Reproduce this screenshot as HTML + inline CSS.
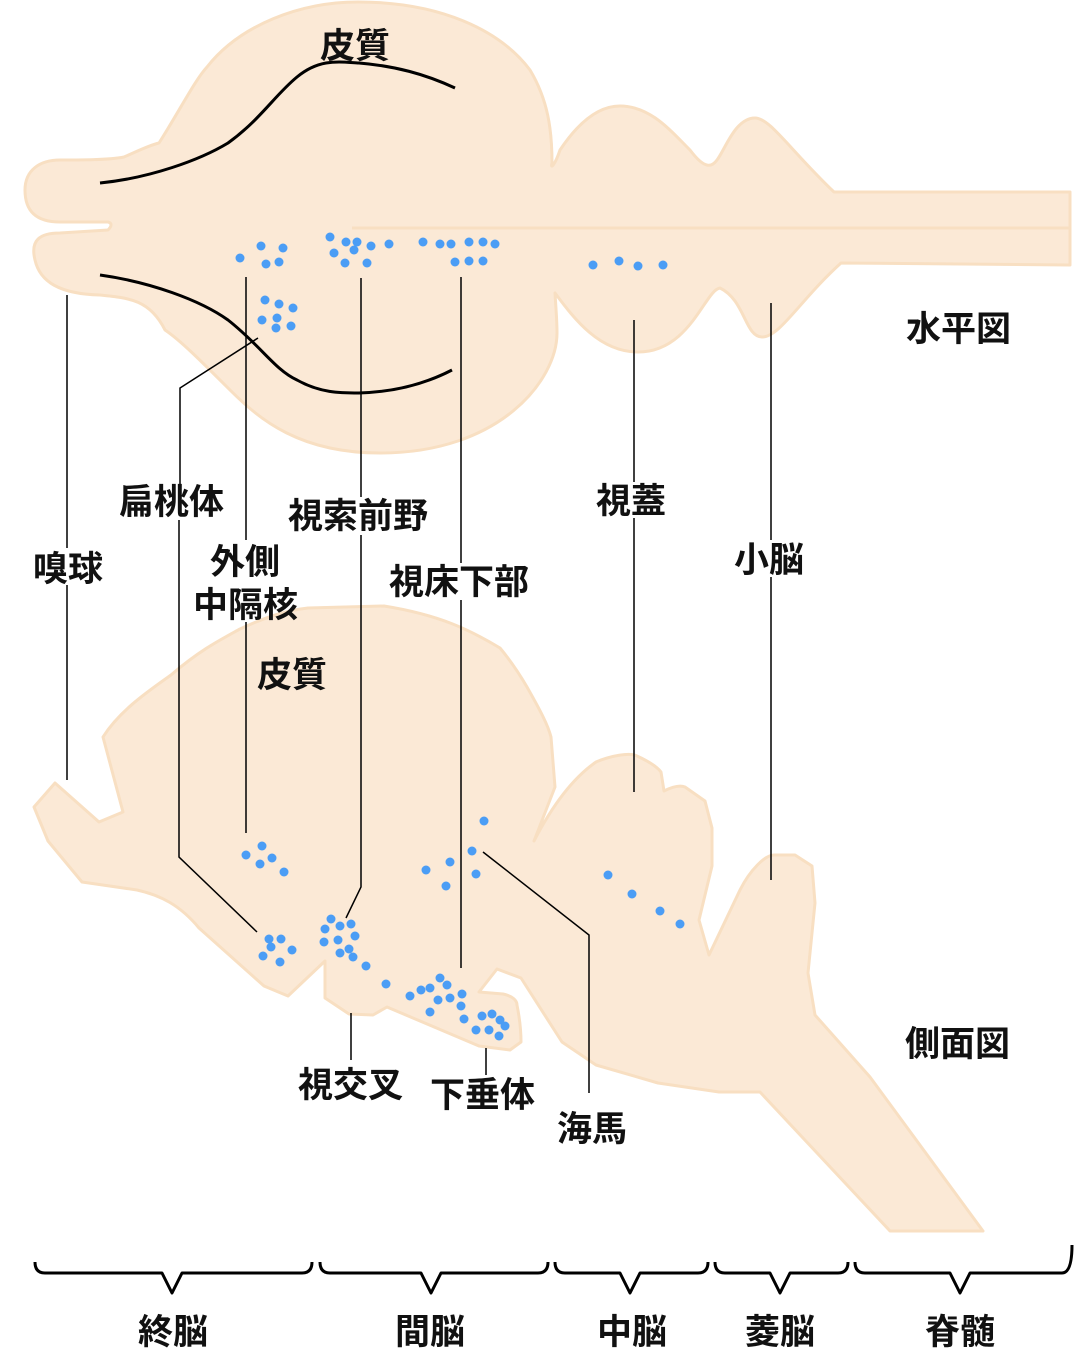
<!DOCTYPE html>
<html><head><meta charset="utf-8"><style>
body{margin:0;background:#fff;}
svg{display:block;}
text{font-family:"Liberation Sans","Noto Sans CJK JP",sans-serif;font-weight:bold;font-size:35px;fill:#111;}
</style></head><body>
<svg width="1076" height="1358" viewBox="0 0 1076 1358" xmlns="http://www.w3.org/2000/svg">
<g fill="#fbe9d6" stroke="#f8dfc2" stroke-width="3" stroke-linejoin="round">
<path d="M124,157 C140,150 150,145 159,143 C180,110 195,80 207,67 C240,25 300,2 358,2 C440,2 500,30 530,70 C548,100 552,130 552,163 C550,170 555,165 560,150 C580,120 600,106 620,106 C650,106 670,130 690,150 C705,170 712,167 717,160 C725,150 735,118 755,118 C770,118 790,150 834,192 L1070,192 L1070,265 L841,263 C800,300 780,337 762,337 C745,337 745,300 720,288 C705,290 690,352 638,352 C600,352 575,320 555,293 C556,310 557,320 557,333 C557,380 500,453 380,453 C300,453 260,420 230,390 C200,360 180,340 165,330 C150,300 130,298 100,295 C60,294 40,282 35,260 C30,240 40,233 60,233 L108,230 C112,226 112,223 108,222 L60,222 C35,222 25,210 25,190 C25,170 40,160 60,160 C80,160 110,160 124,157 Z"/>
<path d="M34,807 L55,783 L99,822 L123,812 L103,737 C120,710 150,690 171,675 C200,650 220,640 240,629 C270,615 290,610 308,608 L384,606 C440,615 470,630 500,648 C510,660 520,675 527,687 C540,710 548,725 551,737 L555,787 L534,841 C550,810 570,780 596,762 C610,756 630,752 637,756 C650,762 658,768 661,772 L664,791 C672,787 680,785 685,787 L705,801 L712,828 L712,866 L699,920 L709,955 L740,890 C750,870 765,855 774,855 L795,855 L812,866 L815,903 L808,973 L815,1015 L870,1077 L983,1231 L890,1231 L760,1092 L719,1092 L658,1083 L596,1065 L562,1042 L521,978 L497,969 L479,992 L503,994 C512,996 517,1000 517,1005 C520,1020 521,1035 521,1042 L510,1050 L479,1046 L387,1007 L373,1015 L349,1014 L325,998 L325,961 L288,996 L264,986 L199,928 C180,905 160,895 137,890 L82,882 L48,841 Z"/>
</g>
<line x1="352" y1="228" x2="1070" y2="228" stroke="#f8dfc2" stroke-width="3"/>
<g fill="none" stroke="#000" stroke-width="3">
<path d="M100,183 C150,178 200,160 228,143 C260,120 275,95 297,77 C320,58 340,62 359,63 C395,66 425,74 455,88"/>
<path d="M100,275 C150,282 200,300 228,320 C260,345 275,370 297,380 C320,393 340,393 359,393 C395,392 425,384 452,370"/>
</g>
<g fill="#4b9df5">
<circle cx="240" cy="258" r="4.5"/><circle cx="261" cy="246" r="4.5"/><circle cx="283" cy="248" r="4.5"/><circle cx="266" cy="264" r="4.5"/><circle cx="279" cy="262" r="4.5"/>
<circle cx="330" cy="237" r="4.5"/><circle cx="346" cy="242" r="4.5"/><circle cx="357" cy="242" r="4.5"/><circle cx="371" cy="246" r="4.5"/><circle cx="389" cy="244" r="4.5"/><circle cx="334" cy="253" r="4.5"/><circle cx="354" cy="250" r="4.5"/><circle cx="345" cy="263" r="4.5"/><circle cx="367" cy="263" r="4.5"/>
<circle cx="423" cy="242" r="4.5"/><circle cx="440" cy="244" r="4.5"/><circle cx="451" cy="244" r="4.5"/><circle cx="469" cy="242" r="4.5"/><circle cx="483" cy="242" r="4.5"/><circle cx="495" cy="244" r="4.5"/><circle cx="455" cy="262" r="4.5"/><circle cx="469" cy="261" r="4.5"/><circle cx="483" cy="261" r="4.5"/>
<circle cx="593" cy="265" r="4.5"/><circle cx="619" cy="261" r="4.5"/><circle cx="638" cy="266" r="4.5"/><circle cx="663" cy="265" r="4.5"/>
<circle cx="265" cy="300" r="4.5"/><circle cx="279" cy="304" r="4.5"/><circle cx="293" cy="308" r="4.5"/><circle cx="262" cy="320" r="4.5"/><circle cx="277" cy="318" r="4.5"/><circle cx="291" cy="326" r="4.5"/><circle cx="276" cy="328" r="4.5"/>
<circle cx="484" cy="821" r="4.5"/><circle cx="472" cy="851" r="4.5"/><circle cx="450" cy="862" r="4.5"/><circle cx="426" cy="870" r="4.5"/><circle cx="476" cy="874" r="4.5"/><circle cx="446" cy="886" r="4.5"/>
<circle cx="608" cy="875" r="4.5"/><circle cx="632" cy="894" r="4.5"/><circle cx="660" cy="911" r="4.5"/><circle cx="680" cy="924" r="4.5"/>
<circle cx="246" cy="855" r="4.5"/><circle cx="262" cy="846" r="4.5"/><circle cx="272" cy="858" r="4.5"/><circle cx="260" cy="864" r="4.5"/><circle cx="284" cy="872" r="4.5"/>
<circle cx="269" cy="939" r="4.5"/><circle cx="281" cy="939" r="4.5"/><circle cx="292" cy="950" r="4.5"/><circle cx="271" cy="947" r="4.5"/><circle cx="263" cy="956" r="4.5"/><circle cx="280" cy="962" r="4.5"/>
<circle cx="331" cy="919" r="4.5"/><circle cx="340" cy="926" r="4.5"/><circle cx="351" cy="924" r="4.5"/><circle cx="325" cy="929" r="4.5"/><circle cx="355" cy="936" r="4.5"/><circle cx="324" cy="942" r="4.5"/><circle cx="338" cy="940" r="4.5"/><circle cx="349" cy="949" r="4.5"/><circle cx="340" cy="953" r="4.5"/><circle cx="353" cy="957" r="4.5"/><circle cx="366" cy="966" r="4.5"/>
<circle cx="386" cy="984" r="4.5"/><circle cx="410" cy="996" r="4.5"/><circle cx="421" cy="990" r="4.5"/><circle cx="430" cy="988" r="4.5"/><circle cx="440" cy="978" r="4.5"/><circle cx="447" cy="985" r="4.5"/><circle cx="438" cy="1000" r="4.5"/><circle cx="450" cy="998" r="4.5"/><circle cx="462" cy="994" r="4.5"/><circle cx="461" cy="1006" r="4.5"/><circle cx="430" cy="1012" r="4.5"/><circle cx="464" cy="1019" r="4.5"/>
<circle cx="482" cy="1016" r="4.5"/><circle cx="492" cy="1014" r="4.5"/><circle cx="500" cy="1020" r="4.5"/><circle cx="505" cy="1026" r="4.5"/><circle cx="476" cy="1030" r="4.5"/><circle cx="489" cy="1030" r="4.5"/><circle cx="499" cy="1036" r="4.5"/>
</g>
<g fill="none" stroke="#000" stroke-width="1.5">
<path d="M67,295 V548 M67,585 V780"/>
<path d="M258,338 L180,388 V485 M179,520 V857 L257,932"/>
<path d="M246,277 V540 M246,622 V833"/>
<path d="M361,278 V497 M361,535 V887 L346,918"/>
<path d="M461,277 V563 M461,600 V968"/>
<path d="M634,320 V482 M634,518 V792"/>
<path d="M771,303 V540 M771,577 V880"/>
<path d="M483,852 L589,935 V1093"/>
<path d="M351,1013 V1060 M486,1048 V1075"/>
</g>
<g fill="none" stroke="#000" stroke-width="3" stroke-linejoin="round">
<path d="M35,1262 Q35,1273 45,1273 H162 L172,1293 L182,1273 H302 Q312,1273 312,1262"/>
<path d="M320,1262 Q320,1273 330,1273 H421 L431,1293 L441,1273 H538 Q548,1273 548,1262"/>
<path d="M555,1262 Q555,1273 565,1273 H620 L630,1293 L640,1273 H698 Q708,1273 708,1262"/>
<path d="M715,1262 Q715,1273 725,1273 H770 L780,1293 L790,1273 H838 Q848,1273 848,1262"/>
<path d="M855,1262 Q855,1273 865,1273 H950 L960,1293 L970,1273 H1062 Q1072,1273 1072,1245"/>
</g>
<g>
<text x="320" y="58">皮質</text>
<text x="906" y="341">水平図</text>
<text x="119" y="514">扁桃体</text>
<text x="33" y="581">嗅球</text>
<text x="288" y="528">視索前野</text>
<text x="210" y="574">外側</text>
<text x="193" y="617">中隔核</text>
<text x="389" y="594">視床下部</text>
<text x="596" y="513">視蓋</text>
<text x="734" y="572">小脳</text>
<text x="257" y="687">皮質</text>
<text x="905" y="1056">側面図</text>
<text x="298" y="1097">視交叉</text>
<text x="430" y="1107">下垂体</text>
<text x="557" y="1141">海馬</text>
<text x="138" y="1344">終脳</text>
<text x="395" y="1344">間脳</text>
<text x="597" y="1344">中脳</text>
<text x="745" y="1344">菱脳</text>
<text x="925" y="1344">脊髄</text>
</g>
</svg>
</body></html>
